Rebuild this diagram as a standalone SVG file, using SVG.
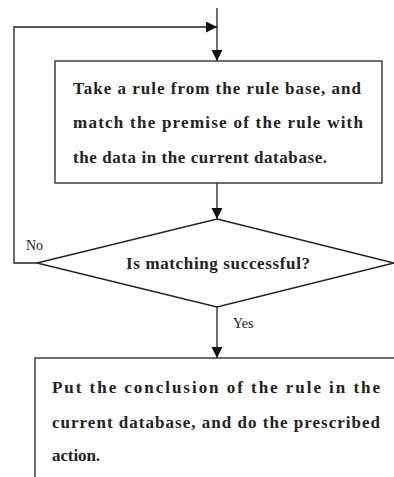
<svg xmlns="http://www.w3.org/2000/svg" width="394" height="477" viewBox="0 0 394 477">
<style>
.ln{stroke:#222;stroke-width:1.3;fill:none}
.bx{stroke:#222;stroke-width:1.3;fill:#fff}
.t{font-family:"Liberation Serif",serif;font-weight:bold;font-size:17px;fill:#222}
.l{font-family:"Liberation Serif",serif;font-size:14px;fill:#222}
</style>
<defs>
<marker id="ah" markerWidth="12" markerHeight="12" refX="11" refY="5.5" orient="auto" markerUnits="userSpaceOnUse">
<path d="M0,0 L11,5.5 L0,11 Z" fill="#111"/>
</marker>
</defs>
<rect width="394" height="477" fill="#fff"/>
<g id="connectors">
<line class="ln" x1="217" y1="8" x2="217" y2="61" marker-end="url(#ah)"/>
<polyline class="ln" points="37,263 14,263 14,27 217,27" marker-end="url(#ah)"/>
<line class="ln" x1="217" y1="183" x2="217" y2="219" marker-end="url(#ah)"/>
<line class="ln" x1="217" y1="307" x2="217" y2="358" marker-end="url(#ah)"/>
<text class="l" x="26" y="250">No</text>
<text class="l" x="233" y="328">Yes</text>
</g>
<g id="box1">
<rect class="bx" x="55" y="61" width="327" height="122"/>
<text class="t" x="73" y="94" textLength="288" lengthAdjust="spacing">Take a rule from the rule base, and</text>
<text class="t" x="73" y="128" textLength="290" lengthAdjust="spacing">match the premise of the rule with</text>
<text class="t" x="73" y="163" textLength="254" lengthAdjust="spacing">the data in the current database.</text>
</g>
<g id="decision">
<polygon class="bx" points="217,219 394,263 217,307 37,263"/>
<text class="t" x="218" y="269" text-anchor="middle" textLength="184" lengthAdjust="spacing">Is matching successful?</text>
</g>
<g id="box2">
<rect class="bx" x="35" y="358" width="380" height="140"/>
<text class="t" x="52" y="393" textLength="328" lengthAdjust="spacing">Put the conclusion of the rule in the</text>
<text class="t" x="52" y="428" textLength="328" lengthAdjust="spacing">current database, and do the prescribed</text>
<text class="t" x="52" y="461" textLength="48" lengthAdjust="spacing">action.</text>
</g>
</svg>
